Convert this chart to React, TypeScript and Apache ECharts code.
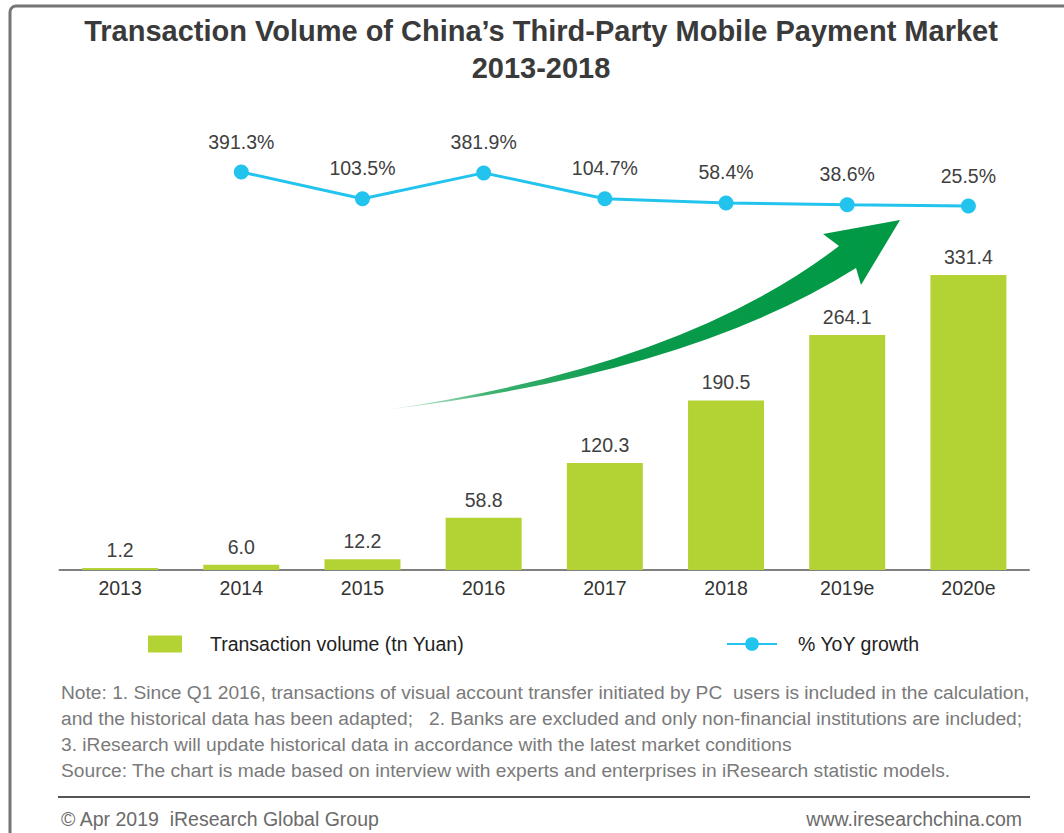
import React, { useEffect, useRef } from "react";
import * as echarts from "echarts";

const categories = ["2013", "2014", "2015", "2016", "2017", "2018", "2019e", "2020e"];
const volume = [1.2, 6.0, 12.2, 58.8, 120.3, 190.5, 264.1, 331.4];
const growth: (number | null)[] = [null, 391.3, 103.5, 381.9, 104.7, 58.4, 38.6, 25.5];

const titleLines = ["Transaction Volume of China\u2019s Third-Party Mobile Payment Market", "2013-2018"];
const legendNames = ["Transaction volume (tn Yuan)", "% YoY growth"];
const noteLines = [
  "Note: 1. Since Q1 2016, transactions of visual account transfer initiated by PC  users is included in the calculation,",
  "and the historical data has been adapted;   2. Banks are excluded and only non-financial institutions are included;",
  "3. iResearch will update historical data in accordance with the latest market conditions",
  "Source: The chart is made based on interview with experts and enterprises in iResearch statistic models.",
];
const footerLeft = "\u00A9 Apr 2019  iResearch Global Group";
const footerRight = "www.iresearchchina.com";

const FONT = "'Liberation Sans', Arial, sans-serif";
const arrowPath =
  "M384 410 Q682 367 839 246 L823 234 L900 220 L861 285 L856 268 Q688 374 384 410 Z";

export default function App() {
  const ref = useRef<HTMLDivElement>(null);
  useEffect(() => {
    document.body.style.margin = "0";
    if (!ref.current) return;
    try {
      echarts.graphic.registerShape("arrowShape", echarts.graphic.extendPath(arrowPath, {}) as any);
    } catch (e) {}
    const chart = echarts.init(ref.current, null, { renderer: "svg" });
    const option: any = {
      animation: false,
      backgroundColor: "#ffffff",
      textStyle: { fontFamily: FONT },
      grid: [
        { left: 59.5, width: 969.5, top: 214, height: 356 },
        { left: 59.5, width: 969.5, top: 171.2, height: 37.2 },
      ],
      xAxis: [
        {
          type: "category",
          gridIndex: 0,
          data: categories,
          axisLine: { lineStyle: { color: "#808080", width: 2 } },
          axisTick: { show: false },
          axisLabel: { color: "#333333", fontSize: 19.5, fontFamily: FONT, margin: 8 },
        },
        { type: "category", gridIndex: 1, data: categories, show: false },
      ],
      yAxis: [
        { type: "value", gridIndex: 0, min: 0, max: 400, show: false, splitLine: { show: false } },
        { type: "value", gridIndex: 1, min: 0, max: 400, show: false, splitLine: { show: false } },
      ],
      legend: [
        {
          data: [legendNames[0]],
          left: 143,
          top: 629,
          icon: "rect",
          itemWidth: 34,
          itemHeight: 17,
          textStyle: { color: "#222222", fontSize: 19.5, fontFamily: FONT, padding: [0, 0, 0, 23] },
        },
        {
          data: [legendNames[1]],
          left: 721,
          top: 629,
          itemWidth: 50,
          itemHeight: 17,
          textStyle: { color: "#222222", fontSize: 19.5, fontFamily: FONT, padding: [0, 0, 0, 16] },
        },
      ],
      series: [
        {
          name: legendNames[0],
          type: "bar",
          xAxisIndex: 0,
          yAxisIndex: 0,
          data: volume,
          barWidth: 76,
          barMinHeight: 2,
          itemStyle: { color: "#B3D334" },
          label: {
            show: true,
            position: "top",
            distance: 8,
            color: "#404040",
            fontSize: 19.5,
            fontFamily: FONT,
            formatter: (p: any) => Number(p.value).toFixed(1),
          },
        },
        {
          name: legendNames[1],
          type: "line",
          xAxisIndex: 1,
          yAxisIndex: 1,
          data: growth,
          symbol: "circle",
          symbolSize: 15,
          connectNulls: false,
          lineStyle: { color: "#22C4EE", width: 3 },
          itemStyle: { color: "#22C4EE" },
          label: {
            show: true,
            position: "top",
            distance: 13,
            color: "#404040",
            fontSize: 19.5,
            fontFamily: FONT,
            formatter: (p: any) => Number(p.value).toFixed(1) + "%",
          },
        },
      ],
      graphic: [
        {
          type: "rect",
          shape: { x: 10, y: 6, width: 1070, height: 850, r: 6 },
          style: { fill: "none", stroke: "#757575", lineWidth: 3 },
          silent: true,
        },
        {
          type: "text",
          x: 541,
          y: 31,
          style: {
            text: titleLines[0],
            fill: "#3a3a3a",
            font: `bold 29px ${FONT}`,
            textAlign: "center",
            textVerticalAlign: "middle",
          },
        },
        {
          type: "text",
          x: 541,
          y: 68,
          style: {
            text: titleLines[1],
            fill: "#3a3a3a",
            font: `bold 29px ${FONT}`,
            textAlign: "center",
            textVerticalAlign: "middle",
          },
        },
        {
          type: "arrowShape",
          x: 0,
          y: 0,
          style: {
            fill: {
              type: "linear",
              x: 0,
              y: 0,
              x2: 1,
              y2: 0,
              colorStops: [
                { offset: 0, color: "rgba(0,153,68,0.05)" },
                { offset: 0.2, color: "rgba(0,153,68,0.75)" },
                { offset: 0.45, color: "#0a9a4c" },
                { offset: 1, color: "#009944" },
              ],
            },
            stroke: "none",
          },
          silent: true,
        },
        ...noteLines.map((t, i) => ({
          type: "text",
          x: 61,
          y: 692 + i * 26,
          style: {
            text: t,
            fill: "#7a7a7a",
            font: `19.2px ${FONT}`,
            textAlign: "left",
            textVerticalAlign: "middle",
          },
        })),
        {
          type: "line",
          shape: { x1: 58, y1: 797, x2: 1030, y2: 797 },
          style: { stroke: "#555555", lineWidth: 2 },
        },
        {
          type: "text",
          x: 61,
          y: 819,
          style: {
            text: footerLeft,
            fill: "#6b6b6b",
            font: `19.5px ${FONT}`,
            textAlign: "left",
            textVerticalAlign: "middle",
          },
        },
        {
          type: "text",
          x: 1022,
          y: 819,
          style: {
            text: footerRight,
            fill: "#6b6b6b",
            font: `19.5px ${FONT}`,
            textAlign: "right",
            textVerticalAlign: "middle",
          },
        },
      ],
    };
    chart.setOption(option);
    return () => chart.dispose();
  }, []);
  return <div ref={ref} style={{ width: 1064, height: 833 }} />;
}
